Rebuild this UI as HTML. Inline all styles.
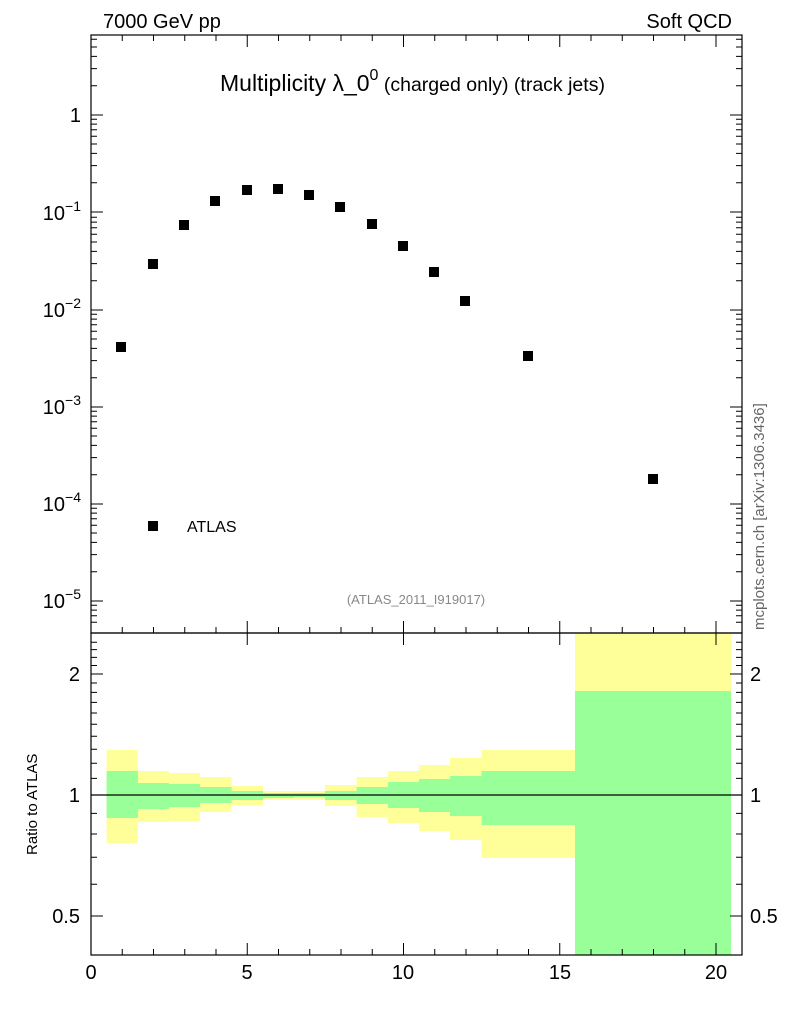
<!DOCTYPE html>
<html><head><meta charset="utf-8"><style>body{margin:0;background:#fff}</style></head><body>
<svg width="786" height="1024" xmlns="http://www.w3.org/2000/svg" font-family="Liberation Sans, sans-serif">
<rect width="786" height="1024" fill="#fff"/>
<text x="103" y="28" font-size="20">7000 GeV pp</text>
<text x="732" y="28" font-size="20" text-anchor="end">Soft QCD</text>
<text x="220" y="91" font-size="23">Multiplicity λ_0<tspan font-size="16" dy="-11">0</tspan><tspan font-size="19.5" dy="11"> (charged only) (track jets)</tspan></text>
<text x="416" y="604" font-size="13" fill="#888" text-anchor="middle">(ATLAS_2011_I919017)</text>
<text transform="translate(764,630) rotate(-90)" font-size="15" fill="#666">mcplots.cern.ch [arXiv:1306.3436]</text>
<g fill="#ffff99">
<rect x="106.6" y="750" width="31.3" height="93"/><rect x="137.9" y="771" width="31.1" height="51"/>
<rect x="169" y="773" width="31" height="48"/><rect x="200" y="777" width="31.6" height="35"/>
<rect x="231.6" y="786" width="31.4" height="19"/><rect x="263" y="791" width="31" height="9"/>
<rect x="294" y="791" width="31" height="9"/><rect x="325" y="785" width="31.6" height="21"/>
<rect x="356.6" y="777" width="31.4" height="40"/><rect x="388" y="771" width="31" height="52"/>
<rect x="419" y="765" width="31" height="66"/><rect x="450" y="758" width="31.6" height="82"/>
<rect x="481.6" y="750" width="93.4" height="108"/><rect x="575" y="634" width="156" height="321"/>
</g>
<g fill="#99ff99">
<rect x="106.6" y="771" width="31.3" height="47"/><rect x="137.9" y="783" width="31.1" height="26"/>
<rect x="169" y="784" width="31" height="23"/><rect x="200" y="787" width="31.6" height="16"/>
<rect x="231.6" y="791" width="31.4" height="9"/><rect x="263" y="793" width="31" height="5"/>
<rect x="294" y="793" width="31" height="4"/><rect x="325" y="791" width="31.6" height="9"/>
<rect x="356.6" y="787" width="31.4" height="17"/><rect x="388" y="782" width="31" height="26"/>
<rect x="419" y="779" width="31" height="33"/><rect x="450" y="776" width="31.6" height="40"/>
<rect x="481.6" y="771" width="93.4" height="54"/><rect x="575" y="691" width="156" height="264"/>
</g>
<line x1="91" y1="795" x2="742" y2="795" stroke="#000" stroke-width="1.2"/>
<g fill="none" stroke="#000" stroke-width="1.2">
<rect x="91" y="35" width="651" height="598"/>
<rect x="91" y="633" width="651" height="322"/>
</g>
<g stroke="#000" stroke-width="1">
<path d="M91 955v-12M247.25 955v-12M403.5 955v-12M559.75 955v-12M716 955v-12M91 633v-12M247.25 633v-12M403.5 633v-12M559.75 633v-12M716 633v-12M91 35v12M247.25 35v12M403.5 35v12M559.75 35v12M716 35v12M91 633v12M247.25 633v12M403.5 633v12M559.75 633v12M716 633v12"/>
<path d="M122.25 955v-6M153.5 955v-6M184.75 955v-6M216 955v-6M278.5 955v-6M309.75 955v-6M341 955v-6M372.25 955v-6M434.75 955v-6M466 955v-6M497.25 955v-6M528.5 955v-6M591 955v-6M622.25 955v-6M653.5 955v-6M684.75 955v-6M122.25 633v-6M153.5 633v-6M184.75 633v-6M216 633v-6M278.5 633v-6M309.75 633v-6M341 633v-6M372.25 633v-6M434.75 633v-6M466 633v-6M497.25 633v-6M528.5 633v-6M591 633v-6M622.25 633v-6M653.5 633v-6M684.75 633v-6M122.25 35v6M153.5 35v6M184.75 35v6M216 35v6M278.5 35v6M309.75 35v6M341 35v6M372.25 35v6M434.75 35v6M466 35v6M497.25 35v6M528.5 35v6M591 35v6M622.25 35v6M653.5 35v6M684.75 35v6"/>
<path d="M91 115h12M91 212h12M91 310h12M91 407h12M91 504h12M91 601h12M742 115h-12M742 212h-12M742 310h-12M742 407h-12M742 504h-12M742 601h-12"/>
<path d="M91 674h12M91 795h12M91 916h12M742 674h-12M742 795h-12M742 916h-12"/>
<path d="M91 85.7h6M91 68.6h6M91 56.4h6M91 47h6M91 39.3h6
M91 182.7h6M91 165.6h6M91 153.4h6M91 144h6M91 136.3h6M91 129.8h6M91 124.1h6M91 119.2h6
M91 280.7h6M91 263.6h6M91 251.4h6M91 242h6M91 234.3h6M91 227.8h6M91 222.1h6M91 217.2h6
M91 377.7h6M91 360.6h6M91 348.4h6M91 339h6M91 331.3h6M91 324.8h6M91 319.1h6M91 314.2h6
M91 474.7h6M91 457.6h6M91 445.4h6M91 436h6M91 428.3h6M91 421.8h6M91 416.1h6M91 411.2h6
M91 571.7h6M91 554.6h6M91 542.4h6M91 533h6M91 525.3h6M91 518.8h6M91 513.1h6M91 508.2h6
M91 622.3h6M91 615.8h6M91 610.1h6M91 605.2h6
M742 85.7h-6M742 68.6h-6M742 56.4h-6M742 47h-6M742 39.3h-6
M742 182.7h-6M742 165.6h-6M742 153.4h-6M742 144h-6M742 136.3h-6M742 129.8h-6M742 124.1h-6M742 119.2h-6
M742 280.7h-6M742 263.6h-6M742 251.4h-6M742 242h-6M742 234.3h-6M742 227.8h-6M742 222.1h-6M742 217.2h-6
M742 377.7h-6M742 360.6h-6M742 348.4h-6M742 339h-6M742 331.3h-6M742 324.8h-6M742 319.1h-6M742 314.2h-6
M742 474.7h-6M742 457.6h-6M742 445.4h-6M742 436h-6M742 428.3h-6M742 421.8h-6M742 416.1h-6M742 411.2h-6
M742 571.7h-6M742 554.6h-6M742 542.4h-6M742 533h-6M742 525.3h-6M742 518.8h-6M742 513.1h-6M742 508.2h-6
M742 622.3h-6M742 615.8h-6M742 610.1h-6M742 605.2h-6"/>
<path d="M91 778.4h6M91 763.2h6M91 749.2h6M91 736.3h6M91 724.2h6M91 713h6M91 702.4h6M91 692.4h6M91 683h6M91 665.5h6M91 657.4h6M91 649.6h6M91 642.2h6M91 813.4h6M91 834h6M91 857.3h6M91 884.2h6
M742 778.4h-6M742 763.2h-6M742 749.2h-6M742 736.3h-6M742 724.2h-6M742 713h-6M742 702.4h-6M742 692.4h-6M742 683h-6M742 665.5h-6M742 657.4h-6M742 649.6h-6M742 642.2h-6M742 813.4h-6M742 834h-6M742 857.3h-6M742 884.2h-6"/>
</g>
<g fill="#000">
<rect x="116" y="342" width="10" height="10"/><rect x="148" y="259" width="10" height="10"/>
<rect x="179" y="220" width="10" height="10"/><rect x="210" y="196" width="10" height="10"/>
<rect x="242" y="185" width="10" height="10"/><rect x="273" y="184" width="10" height="10"/>
<rect x="304" y="190" width="10" height="10"/><rect x="335" y="202" width="10" height="10"/>
<rect x="367" y="219" width="10" height="10"/><rect x="398" y="241" width="10" height="10"/>
<rect x="429" y="267" width="10" height="10"/><rect x="460" y="296" width="10" height="10"/>
<rect x="523" y="351" width="10" height="10"/><rect x="648" y="474" width="10" height="10"/>
<rect x="148" y="521" width="10" height="10"/>
</g>
<text x="187" y="532" font-size="16">ATLAS</text>
<g font-size="20" text-anchor="end">
<text x="81" y="122">1</text>
<text x="81" y="220">10<tspan font-size="14" dy="-9">−1</tspan></text>
<text x="81" y="317">10<tspan font-size="14" dy="-9">−2</tspan></text>
<text x="81" y="414">10<tspan font-size="14" dy="-9">−3</tspan></text>
<text x="81" y="511">10<tspan font-size="14" dy="-9">−4</tspan></text>
<text x="81" y="608">10<tspan font-size="14" dy="-9">−5</tspan></text>
<text x="80" y="681">2</text><text x="80" y="802">1</text><text x="80" y="923">0.5</text>
</g>
<g font-size="20">
<text x="750" y="681">2</text><text x="750" y="802">1</text><text x="750" y="923">0.5</text>
</g>
<g font-size="20" text-anchor="middle">
<text x="91" y="979">0</text><text x="247" y="979">5</text><text x="403" y="979">10</text><text x="560" y="979">15</text><text x="716" y="979">20</text>
</g>
<text transform="translate(37,855) rotate(-90)" font-size="15">Ratio to ATLAS</text>
</svg>
</body></html>
